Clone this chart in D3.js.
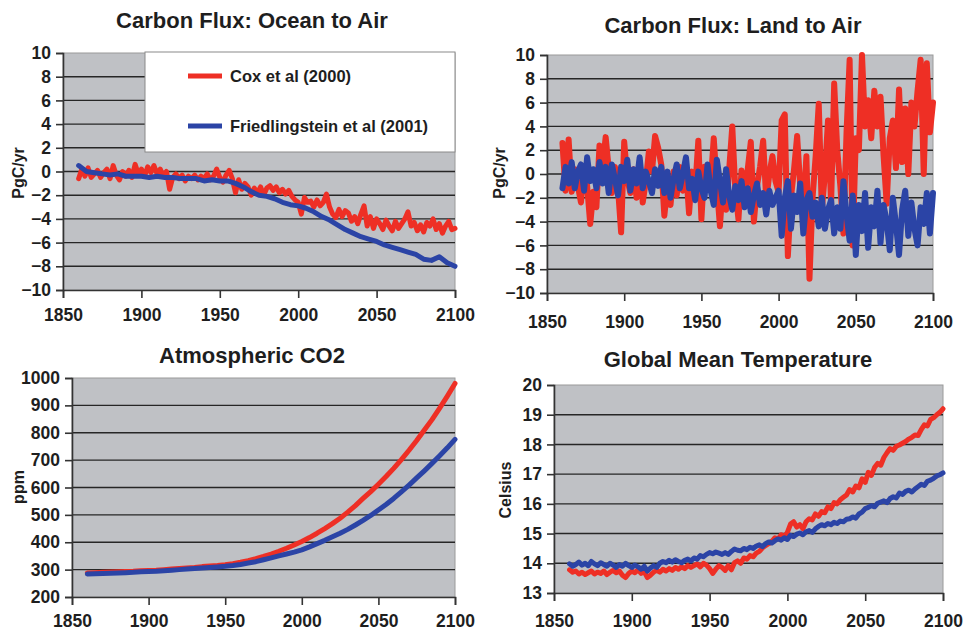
<!DOCTYPE html>
<html>
<head>
<meta charset="utf-8">
<script src="https://cdn.jsdelivr.net/npm/d3@7"></script>
<style>
  body { margin: 0; background: #fff; }
  svg text { font-family: "Liberation Sans", Arial, sans-serif; font-weight: bold; fill: #1e1e1e; }
</style>
</head>
<body>
<div id="chart"></div>
<script>
// ---- data ----
var xTicks = [1850, 1900, 1950, 2000, 2050, 2100];
var fluxTicks = [-10, -8, -6, -4, -2, 0, 2, 4, 6, 8, 10];
var co2Ticks = [200, 300, 400, 500, 600, 700, 800, 900, 1000];
var tempTicks = [13, 14, 15, 16, 17, 18, 19, 20];

var seriesNames = ["Cox et al (2000)", "Friedlingstein et al (2001)"];

// every 2 years, 1860..2100
var years2 = d3.range(1860, 2101, 2);
// every 5 years, 1860..2100
var years5 = d3.range(1860, 2101, 5);

var oceanCox = [
  -0.6, 0.2, -0.4, 0.3, -0.5, -0.2, 0.1, -0.5, -0.1, 0.2,
  -0.6, 0.5, -0.3, -0.7, 0.0, -0.4, 0.1, -0.5, 0.6, -0.2,
  0.2, -0.4, 0.4, -0.1, 0.5, -0.2, 0.2, -0.4, 0.0, -1.5,
  -0.5, -0.2, -0.6, -0.3, -0.8, -0.4, -0.6, -0.3, -0.7, -0.4,
  -0.6, -0.2, -0.7, -0.4, 0.2, -0.5, -0.9, -0.3, 0.1, -0.6,
  -1.8, -0.7, -1.5, -1.0, -1.3, -2.0, -1.4, -1.8, -1.3, -2.0,
  -1.4, -1.2, -1.6, -1.3, -1.8, -1.5, -1.9, -1.6, -2.1, -2.4,
  -2.6, -3.6, -2.2, -2.6, -2.5, -3.0, -2.4, -2.9, -2.6, -1.9,
  -3.0, -3.6, -3.9, -3.2, -3.8, -3.3, -3.5, -4.2, -3.8, -4.4,
  -3.6, -2.9, -4.6, -3.8, -4.8, -4.0, -4.4, -4.9, -4.1, -4.6,
  -5.0, -4.2, -4.8, -4.4, -4.0, -3.4, -4.6, -4.3, -5.0, -4.5,
  -5.1, -4.3, -4.6, -4.0, -4.9, -4.4, -5.2, -4.6, -4.2, -4.9,
  -4.8
];
var oceanFried = [
  0.5, 0.0, -0.1, -0.2, -0.3, -0.2, -0.4, -0.4, -0.4, -0.5,
  -0.4, -0.5, -0.5, -0.6, -0.6, -0.6, -0.8, -0.7, -0.8, -0.8,
  -1.0, -1.3, -1.7, -2.0, -2.1, -2.3, -2.6, -2.8, -2.9, -3.1,
  -3.4, -3.8, -4.1, -4.5, -4.9, -5.2, -5.5, -5.7, -5.9, -6.2,
  -6.4, -6.6, -6.8, -7.0, -7.4, -7.5, -7.2, -7.7, -8.0
];

var landCox = [
  2.6, -1.4, 2.9, -1.5, 0.4, -1.0, -2.4, 0.6, -1.0, -4.2,
  -1.5, -2.8, 2.4, 0.6, 3.1, 0.4, -1.6, 0.6, -1.2, -4.9,
  2.7, -0.4, -1.6, 0.4, -2.0, 1.0, -2.4, -0.6, 1.9, 0.2,
  3.2, 2.2, 0.8, -3.5, -1.0, -2.6, 0.2, -1.8, 0.6, -1.4,
  0.4, -3.3, 0.2, -1.2, 2.8, -3.8, 0.6, -1.0, -0.8, 3.0,
  -1.0, -4.4, -0.6, -3.0, 0.4, 4.0, -1.4, -3.8, 0.3, -2.5,
  0.4, 2.7, -4.0, -1.0, 0.6, 2.8, -2.2, 0.0, 1.5, -0.6,
  -1.5, 4.5, 5.0, -6.9, -2.0, 0.4, 3.2, -1.0, -3.0, 1.5,
  -8.8, -2.0, 1.5, 5.9, -3.0, 0.0, 4.5, -2.5, 7.6, 2.0,
  -1.0, -5.0, 3.5, 9.6, -6.0, 3.0, 2.0, 10.0, 4.0, 6.2,
  3.0, 7.0, 4.0, 6.5, 1.5, -2.5, 3.0, 4.5, 0.5, 7.1,
  1.0, 5.5, 0.0, 6.0, 4.0, 7.0, 9.6, 0.0, 9.3, 3.5,
  6.0
];
var landFried = [
  -1.2, 0.6, -0.8, 1.0, -1.2, 0.2, 0.8, -1.4, 1.4, -0.6,
  0.4, -1.2, 1.0, -0.8, 0.6, -1.6, 0.8, -0.4, -1.8, 0.6,
  -0.6, 1.2, -1.4, 0.4, -0.8, 1.4, -1.2, 0.2, -0.6, -1.6,
  0.4, -1.0, 0.6, -1.6, 0.2, -2.0, -0.4, 0.8, -1.2, 0.0,
  1.4, -1.2, -0.4, -2.2, 0.2, -1.2, -2.0, 0.8, -1.4, -2.6,
  1.2, -0.6, -2.4, 0.4, -1.8, -3.0, -1.0, -2.2, -0.6, -2.8,
  -1.2, -3.2, -1.8, -0.8, -2.6, -1.6, -3.4, -1.4, -2.6, -2.0,
  -1.4, -5.2, -2.0, -0.6, -4.6, -1.8, -3.2, -0.8, -5.0, -2.2,
  -1.6, -3.6, -2.4, -4.4, -2.0, -4.6, -3.0, -2.2, -5.0, -2.8,
  -4.6, -0.6, -3.4, -5.6, -1.8, -6.8, -2.6, -4.8, -1.6, -6.2,
  -2.8, -4.4, -1.4, -5.8, -2.6, -4.0, -6.4, -2.0, -4.2, -6.8,
  -3.0, -1.4, -5.2, -2.4, -4.6, -6.0, -2.8, -4.2, -1.6, -5.0,
  -1.6
];

var co2Cox = [
  288, 289, 290, 291, 292, 293, 294, 296, 297, 298,
  300, 302, 304, 306, 308, 311, 313, 315, 318, 322,
  327, 333, 340, 348, 357, 367, 378, 390, 403, 417,
  433, 450, 468, 488, 510, 534, 560, 585, 612, 640,
  670, 702, 736, 772, 810, 848, 890, 934, 980
];
var co2Fried = [
  284, 285, 286, 287, 288, 289, 290, 292, 293, 294,
  296, 298, 300, 302, 304, 306, 308, 310, 312, 315,
  319, 324, 329, 336, 343, 350, 357, 364, 372, 383,
  395, 407, 420, 433, 447, 463, 480, 498, 518, 538,
  560, 584, 609, 635, 661, 688, 716, 745, 776
];

var tempCox = [
  13.78, 13.70, 13.74, 13.64, 13.70, 13.62, 13.68, 13.74, 13.64, 13.70,
  13.66, 13.74, 13.62, 13.70, 13.76, 13.68, 13.74, 13.60, 13.52, 13.66,
  13.74, 13.68, 13.78, 13.66, 13.72, 13.52, 13.60, 13.70, 13.76, 13.70,
  13.80, 13.74, 13.82, 13.76, 13.86, 13.80, 13.88, 13.82, 13.92, 13.86,
  13.92, 13.98, 13.88, 14.00, 13.94, 13.82, 13.66, 13.80, 13.92, 13.86,
  13.76, 13.92, 13.78, 14.02, 14.08, 14.00, 14.18, 14.14, 14.26, 14.22,
  14.34, 14.40, 14.52, 14.60, 14.66, 14.74, 14.86, 14.82, 14.96, 14.90,
  15.04, 15.32, 15.40, 15.22, 15.30, 15.16, 15.40, 15.50, 15.46, 15.66,
  15.58, 15.74, 15.70, 15.90, 15.84, 16.04, 16.00, 16.14, 16.22, 16.30,
  16.48, 16.40, 16.60, 16.54, 16.84, 16.72, 17.06, 16.96, 17.22, 17.36,
  17.30, 17.56, 17.72, 17.86, 17.80, 17.94, 17.98, 18.04, 18.10, 18.18,
  18.24, 18.32, 18.30, 18.50, 18.66, 18.62, 18.84, 18.90, 19.00, 19.08,
  19.20
];
var tempFried = [
  13.98, 13.90, 13.96, 14.04, 13.94, 14.00, 13.92, 14.06, 13.98, 13.92,
  14.02, 13.96, 13.90, 14.00, 13.94, 13.86, 13.96, 13.90, 14.00, 13.92,
  13.86, 13.94, 13.88, 13.80, 13.90, 13.74, 13.84, 13.92, 13.86, 14.00,
  14.06, 14.02, 14.10, 14.04, 14.12, 14.06, 14.02, 14.10, 14.14, 14.08,
  14.18, 14.14, 14.26, 14.22, 14.30, 14.36, 14.32, 14.38, 14.34, 14.30,
  14.36, 14.30, 14.40, 14.48, 14.44, 14.42, 14.50, 14.46, 14.54, 14.50,
  14.58, 14.62, 14.56, 14.66, 14.72, 14.68, 14.76, 14.82, 14.78, 14.86,
  14.80, 14.94, 14.90, 14.98, 15.02, 14.96, 15.06, 15.10, 15.04, 15.16,
  15.24, 15.30, 15.26, 15.34, 15.30, 15.38, 15.34, 15.42, 15.40, 15.48,
  15.50, 15.56, 15.52, 15.66, 15.72, 15.84, 15.88, 15.94, 15.90, 16.02,
  16.06, 16.10, 16.04, 16.18, 16.24, 16.20, 16.36, 16.32, 16.42, 16.46,
  16.40, 16.50, 16.58, 16.66, 16.62, 16.76, 16.80, 16.86, 16.94, 16.98,
  17.04
];

// ---- drawing ----
var w = 965, h = 632;
var red = "#ee2f25", blue = "#2b44a6";
var plotBg = "#bfc1c5", gridColor = "#262626";

var svg = d3.select("#chart").append("svg")
    .attr("width", w)
    .attr("height", h);

var panels = [
  { title: "Carbon Flux: Ocean to Air", titleX: 252, titleY: 28, ylabel: "PgC/yr", ylabelX: 18, ylabelY: 173,
    left: 63, right: 455, top: 53, bottom: 290, domain: [-10, 10], ticks: fluxTicks, xLabelY: 321, lw: 5,
    series: [[years2, oceanCox, red], [years5, oceanFried, blue]], legend: true },
  { title: "Carbon Flux: Land to Air", titleX: 733, titleY: 33, ylabel: "PgC/yr", ylabelX: 499, ylabelY: 173,
    left: 547, right: 933, top: 55, bottom: 293, domain: [-10, 10], ticks: fluxTicks, xLabelY: 328, lw: 6,
    series: [[years2, landCox, red], [years2, landFried, blue]] },
  { title: "Atmospheric CO2", titleX: 252, titleY: 363, ylabel: "ppm", ylabelX: 18, ylabelY: 487,
    left: 72, right: 455, top: 378, bottom: 597, domain: [200, 1000], ticks: co2Ticks, xLabelY: 627, lw: 5,
    series: [[years5, co2Cox, red], [years5, co2Fried, blue]] },
  { title: "Global Mean Temperature", titleX: 738, titleY: 367, ylabel: "Celsius", ylabelX: 505, ylabelY: 490,
    left: 554, right: 943, top: 385, bottom: 593, domain: [13, 20], ticks: tempTicks, xLabelY: 627, lw: 5,
    series: [[years2, tempCox, red], [years2, tempFried, blue]] }
];

panels.forEach(function(p) {
  var x = d3.scaleLinear().domain([1850, 2100]).range([p.left, p.right]);
  var y = d3.scaleLinear().domain(p.domain).range([p.bottom, p.top]);
  var g = svg.append("g");

  g.append("rect")
      .attr("x", p.left)
      .attr("y", p.top)
      .attr("width", p.right - p.left)
      .attr("height", p.bottom - p.top)
      .attr("fill", plotBg)
      .attr("stroke", "#9a9a9a")
      .attr("stroke-width", 1);

  // horizontal gridlines
  g.selectAll("line.grid")
      .data(p.ticks.slice(1, -1))
      .enter()
      .append("line")
      .attr("class", "grid")
      .attr("x1", p.left)
      .attr("x2", p.right)
      .attr("y1", function(d) { return y(d); })
      .attr("y2", function(d) { return y(d); })
      .attr("stroke", gridColor)
      .attr("stroke-width", 1.4);

  // y axis
  var yAxis = d3.axisLeft(y).tickValues(p.ticks).tickFormat(d3.format("d")).tickSize(7).tickPadding(5);
  var ya = g.append("g")
      .attr("transform", "translate(" + p.left + ",0)")
      .call(yAxis);
  ya.selectAll("text").style("font-size", "17.5px");

  // x axis
  var xAxis = d3.axisBottom(x).tickValues(xTicks).tickFormat(d3.format("d")).tickSize(8);
  var xa = g.append("g")
      .attr("transform", "translate(0," + p.bottom + ")")
      .call(xAxis);
  xa.selectAll("text")
      .attr("y", null)
      .attr("dy", null)
      .attr("transform", "translate(0," + (p.xLabelY - p.bottom) + ")")
      .style("font-size", "17.5px");

  [ya, xa].forEach(function(a) {
    a.select(".domain").attr("stroke", "#333").attr("stroke-width", 1.6);
    a.selectAll(".tick line").attr("stroke", "#333").attr("stroke-width", 1.6);
    a.selectAll("text").attr("fill", "#1e1e1e").style("font-family", "'Liberation Sans', Arial, sans-serif").style("font-weight", "bold");
  });

  // series
  var line = d3.line()
      .x(function(d) { return x(d[0]); })
      .y(function(d) { return y(d[1]); });
  p.series.forEach(function(s) {
    var pts = s[0].map(function(yr, i) { return [yr, s[1][i]]; });
    g.append("path")
        .datum(pts)
        .attr("d", line)
        .attr("fill", "none")
        .attr("stroke", s[2])
        .attr("stroke-width", p.lw)
        .attr("stroke-linejoin", "round")
        .attr("stroke-linecap", "round");
  });

  g.append("text")
      .attr("x", p.titleX)
      .attr("y", p.titleY)
      .attr("text-anchor", "middle")
      .style("font-size", "22px")
      .text(p.title);

  g.append("text")
      .attr("transform", "translate(" + p.ylabelX + "," + p.ylabelY + ") rotate(-90)")
      .attr("text-anchor", "middle")
      .attr("dy", "0.35em")
      .style("font-size", "16px")
      .text(p.ylabel);

  if (p.legend) {
    var lg = g.append("g");
    lg.append("rect")
        .attr("x", 145)
        .attr("y", 52)
        .attr("width", 310)
        .attr("height", 100)
        .attr("fill", "#fff")
        .attr("stroke", "#8a8a8a")
        .attr("stroke-width", 1);
    [red, blue].forEach(function(c, i) {
      var ly = 76 + i * 50;
      lg.append("line")
          .attr("x1", 188)
          .attr("x2", 222)
          .attr("y1", ly)
          .attr("y2", ly)
          .attr("stroke", c)
          .attr("stroke-width", 5);
      lg.append("text")
          .attr("x", 230)
          .attr("y", ly)
          .attr("dy", "0.36em")
          .style("font-size", "16.5px")
          .text(seriesNames[i]);
    });
  }
});
</script>
</body>
</html>
